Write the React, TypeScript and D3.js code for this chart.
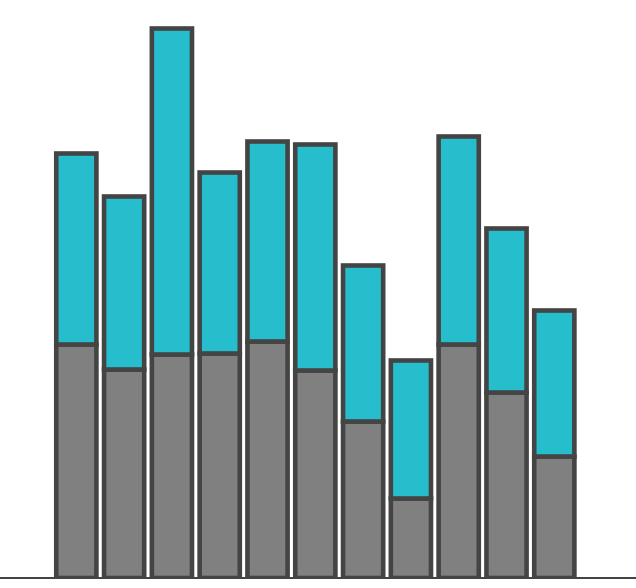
import React from "react";
import * as d3 from "d3";

const categories = ["A", "B", "C", "D", "E", "F", "G", "H", "I", "J", "K"];
const seriesBottom = [46.7, 41.7, 44.7, 44.9, 47.3, 41.5, 31.3, 15.9, 46.7, 37.1, 24.3];
const seriesTop = [38.2, 34.6, 65.2, 36.2, 40.0, 45.2, 31.2, 27.6, 41.6, 32.8, 29.2];

const W = 636;
const H = 588;
const BASE = 578;
const TOP = 28;

export default function App() {
  const x = d3
    .scaleBand<string>()
    .domain(categories)
    .range([52.43, 578.2])
    .paddingInner(0.16)
    .paddingOuter(0.08);
  const y = d3.scaleLinear().domain([0, 110]).range([BASE, TOP]);

  const data = categories.map((c, i) => ({ c, b: seriesBottom[i], t: seriesTop[i] }));
  const stack = d3.stack<any>().keys(["b", "t"])(data);
  const colors: Record<string, string> = { b: "#808080", t: "#26bdcc" };

  return (
    <svg
      width={W}
      height={H}
      style={{ position: "absolute", left: 0, top: 0, display: "block" }}
    >
      <defs>
        <clipPath id="plotClip">
          <rect x={0} y={0} width={W} height={577} />
        </clipPath>
      </defs>
      <g clipPath="url(#plotClip)">
        {stack.map((layer) =>
          layer.map((d, i) => (
            <rect
              key={layer.key + i}
              x={x(categories[i])}
              width={x.bandwidth()}
              y={y(d[1])}
              height={y(d[0]) - y(d[1])}
              fill={colors[layer.key]}
              stroke="#444444"
              strokeWidth={4.6}
            />
          ))
        )}
      </g>
      <line x1={0} x2={W} y1={578} y2={578} stroke="#444444" strokeWidth={2} />
    </svg>
  );
}
